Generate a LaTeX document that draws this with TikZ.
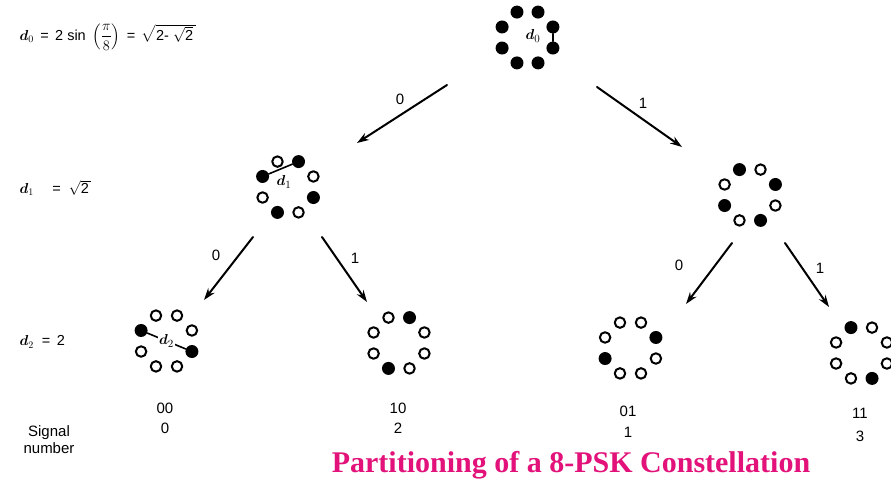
\documentclass[tikz,border=0pt]{standalone}
\usepackage{amsmath}
\usepackage{fontspec}
\setmainfont{Liberation Sans}
\newfontfamily\headserif{Liberation Serif}
\usepackage{tikz}
\usetikzlibrary{arrows.meta,calc}
\definecolor{headpink}{HTML}{E2127A}
\tikzset{
  every picture/.style={
    line join=round,
    line cap=round,
    >=Stealth,
  },
  pt0/.style={circle, draw=black, fill=white, line width=2pt, inner sep=0pt, minimum size=10.5pt},
  pt1/.style={circle, fill=black, inner sep=0pt, minimum size=13pt},
  branch/.style={->, line width=2pt, >={Stealth[length=12pt,width=8pt]}},
  dist/.style={line width=1.6pt},
  lbl/.style={font=\fontsize{15}{18}\selectfont},
  eqn/.style={anchor=west, font=\fontsize{14.5}{17}\selectfont},
}
% eight points on a ring, 0 = open, 1 = filled (counted anticlockwise from 22.5 deg)
\newcommand{\pskring}[3]{%
  \foreach \s [count=\k from 0] in {#3}{
    \ifnum\s=1
      \node[pt1] (#1-\k) at ($(#2)+(-22.5-45*\k:27.5)$) {};
    \else
      \node[pt0] (#1-\k) at ($(#2)+(-22.5-45*\k:27.5)$) {};
    \fi
  }%
}

\begin{document}
\begin{tikzpicture}[x=1pt, y=-1pt]
    \useasboundingbox (0,0) rectangle (891,489);

    % Distances
    \node[eqn] (eq0) at (16,37) {$\boldsymbol{d}_0$ \,=\, 2 sin\, $\Bigl(\dfrac{\pi}{8}\Bigr)$ \,=\, $\sqrt{\mbox{2-\ }\sqrt{\mbox{2}}\,}$};
    \node[eqn] (eq1) at (16,188) {$\boldsymbol{d}_1$ \quad=\ \ $\sqrt{\mbox{2}\,}$};
    \node[eqn] (eq2) at (16,342) {$\boldsymbol{d}_2$ \ = \,2};

    % Rings
    \pskring{top}{527.5,37.5}{1,1,1,1,1,1,1,1}
    \pskring{la}{288,187}{0,1,0,1,0,1,0,1}
    \pskring{lb}{750,195}{1,0,1,0,1,0,1,0}
    \pskring{za}{166.5,341}{0,0,0,1,0,0,0,1}
    \pskring{zb}{399,343}{0,1,0,0,0,1,0,0}
    \pskring{zc}{630.5,348}{1,0,0,0,1,0,0,0}
    \pskring{zd}{861.5,353}{0,0,1,0,0,0,1,0}

    % Minimum distances
    \draw[dist] (top-0) -- (top-7);
    \node[lbl] (d0) at (533,36) {$\boldsymbol{d}_0$};
    \draw[dist] (la-3) -- (la-1);
    \node[lbl] (d1) at (284,182) {$\boldsymbol{d}_1$};
    \draw[dist] (za-3) -- node[lbl, fill=white, inner sep=1pt] (d2) {$\boldsymbol{d}_2$} (za-7);

    % Branches
    \coordinate (a0s) at (447,85);   \coordinate (a0e) at (357,143);
    \coordinate (a1s) at (597,87);   \coordinate (a1e) at (682,147);
    \coordinate (b0s) at (253,237);  \coordinate (b0e) at (204,300);
    \coordinate (b1s) at (322,237);  \coordinate (b1e) at (367,302);
    \coordinate (c0s) at (732,243);  \coordinate (c0e) at (686,304);
    \coordinate (c1s) at (785,243);  \coordinate (c1e) at (829,307);
    \draw[branch] (a0s) -- (a0e);
    \draw[branch] (a1s) -- (a1e);
    \draw[branch] (b0s) -- (b0e);
    \draw[branch] (b1s) -- (b1e);
    \draw[branch] (c0s) -- (c0e);
    \draw[branch] (c1s) -- (c1e);
    \node[lbl] (a0) at (400,99) {0};
    \node[lbl] (a1) at (643,103) {1};
    \node[lbl] (b0) at (216,255) {0};
    \node[lbl] (b1) at (355,258) {1};
    \node[lbl] (c0) at (679,265) {0};
    \node[lbl] (c1) at (820,268) {1};

    % Labels and signal numbers
    \node[lbl] (s00) at (165,408) {00};
    \node[lbl] (n0) at (165,428) {0};
    \node[lbl] (s10) at (398,408) {10};
    \node[lbl] (n2) at (398,428) {2};
    \node[lbl] (s01) at (628,411) {01};
    \node[lbl] (n1) at (628,432) {1};
    \node[lbl] (s11) at (860,413) {11};
    \node[lbl] (n3) at (860,436) {3};
    \node[lbl, align=center] (sig) at (49,440) {Signal\\[-1pt]number};

    \node[font=\fontsize{30}{36}\selectfont\headserif\bfseries, text=headpink] (head) at (571,465) {Partitioning of a 8-PSK Constellation};
\end{tikzpicture}
\end{document}
